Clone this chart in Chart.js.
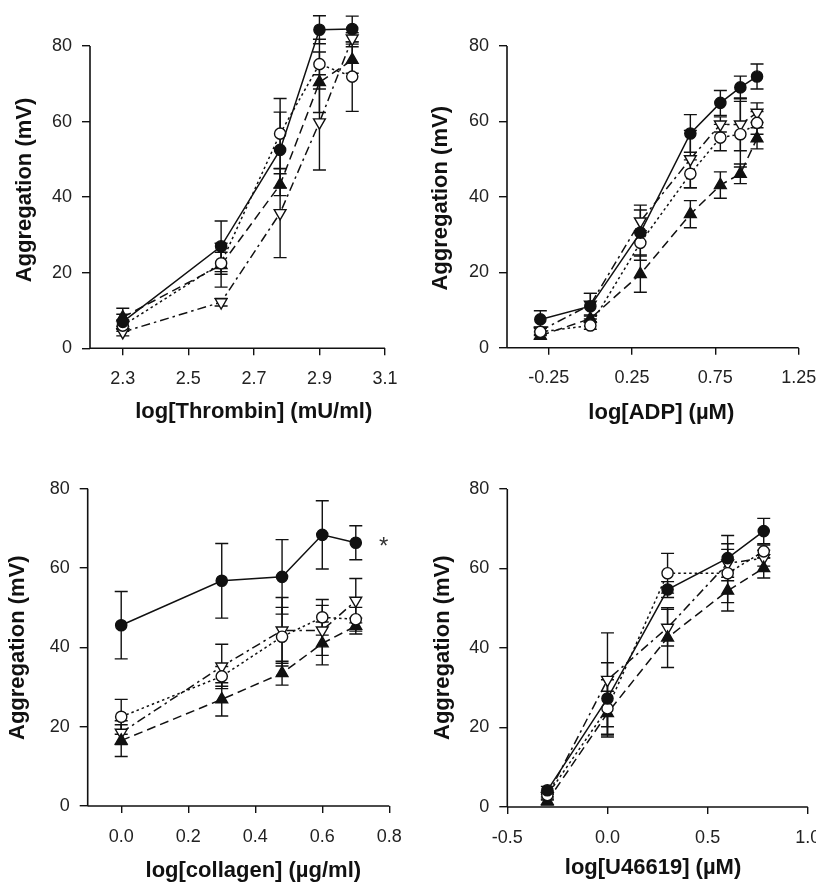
<!DOCTYPE html>
<html>
<head>
<meta charset="utf-8">
<script src="https://cdn.jsdelivr.net/npm/chart.js@4/dist/chart.umd.min.js"></script>
<style>
  html, body { margin: 0; padding: 0; background: #fff; }
  #wrap { position: relative; width: 816px; height: 882px; overflow: hidden; }
  .panel { position: absolute; width: 408px; height: 441px; }
</style>
</head>
<body>
<div id="wrap">
  <div class="panel" style="left:0;top:0"><canvas id="thrombin"></canvas></div>
  <div class="panel" style="left:408px;top:0"><canvas id="adp"></canvas></div>
  <div class="panel" style="left:0;top:441px"><canvas id="collagen"></canvas></div>
  <div class="panel" style="left:408px;top:441px"><canvas id="u46619"></canvas></div>
</div>
<script>
// ---- Thrombin ----
const thrombinDose = [2.30, 2.60, 2.78, 2.90, 3.00];
const thrombinFilledCircle = [7.0, 27.0, 52.5, 84.3, 84.5];
const thrombinFilledCircleSem = [2.0, 6.7, 10.0, 3.7, 3.4];
const thrombinOpenCircle = [6.0, 22.5, 56.8, 75.2, 71.9];
const thrombinOpenCircleSem = [1.5, 2.9, 9.3, 6.6, 9.2];
const thrombinFilledTriangle = [8.2, 22.0, 43.3, 70.4, 76.3];
const thrombinFilledTriangleSem = [2.4, 5.8, 2.9, 8.0, 3.5];
const thrombinOpenTriangle = [4.3, 12.2, 35.8, 59.8, 82.0];
const thrombinOpenTriangleSem = [1.0, 1.0, 11.8, 12.6, 1.5];
const thrombinTicks = [2.3, 2.5, 2.7, 2.9, 3.1];
const thrombinTickLabels = ['2.3', '2.5', '2.7', '2.9', '3.1'];

// ---- ADP ----
const adpDose = [-0.30, 0.00, 0.30, 0.60, 0.78, 0.90, 1.00];
const adpFilledCircle = [7.5, 11.0, 30.5, 56.8, 64.9, 69.0, 71.9];
const adpFilledCircleSem = [2.3, 3.4, 7.3, 5.0, 3.3, 3.0, 3.3];
const adpOpenCircle = [4.2, 5.9, 27.8, 46.1, 55.7, 56.6, 59.6];
const adpOpenCircleSem = [1.0, 1.0, 3.2, 3.7, 3.5, 8.7, 3.0];
const adpFilledTriangle = [3.2, 7.7, 19.5, 35.4, 43.1, 46.1, 55.5];
const adpFilledTriangleSem = [1.0, 1.0, 4.8, 3.6, 3.5, 2.6, 2.8];
const adpOpenTriangle = [4.5, 11.4, 33.5, 50.0, 59.2, 59.2, 62.3];
const adpOpenTriangleSem = [1.0, 3.0, 3.0, 7.6, 2.0, 7.0, 2.6];
const adpTicks = [-0.25, 0.25, 0.75, 1.25];
const adpTickLabels = ['-0.25', '0.25', '0.75', '1.25'];

// ---- Collagen ----
const collagenDose = [0.00, 0.30, 0.48, 0.60, 0.70];
const collagenFilledCircle = [45.6, 56.8, 57.8, 68.4, 66.4];
const collagenFilledCircleSem = [8.5, 9.4, 9.4, 8.6, 4.3];
const collagenOpenCircle = [22.5, 32.7, 42.7, 47.6, 47.1];
const collagenOpenCircleSem = [4.4, 2.5, 7.4, 4.5, 3.0];
const collagenFilledTriangle = [16.5, 26.9, 33.5, 41.0, 45.4];
const collagenFilledTriangleSem = [4.0, 4.2, 3.0, 5.4, 2.0];
const collagenOpenTriangle = [18.5, 35.2, 44.3, 44.3, 51.8];
const collagenOpenTriangleSem = [3.0, 5.6, 8.3, 6.3, 5.6];
const collagenTicks = [0.0, 0.2, 0.4, 0.6, 0.8];
const collagenTickLabels = ['0.0', '0.2', '0.4', '0.6', '0.8'];

// ---- U46619 ----
const u46619Dose = [-0.30, 0.00, 0.30, 0.60, 0.78];
const u46619FilledCircle = [4.2, 27.3, 54.7, 62.6, 69.4];
const u46619FilledCircleSem = [1.0, 9.0, 2.0, 5.7, 3.2];
const u46619OpenCircle = [3.0, 24.8, 58.8, 58.8, 64.3];
const u46619OpenCircleSem = [1.0, 7.2, 5.0, 7.4, 1.6];
const u46619FilledTriangle = [1.5, 23.6, 42.6, 54.4, 60.1];
const u46619FilledTriangleSem = [1.0, 5.5, 7.5, 5.1, 2.5];
const u46619OpenTriangle = [2.75, 32.0, 45.1, 61.3, 62.6];
const u46619OpenTriangleSem = [1.0, 11.8, 4.6, 3.5, 2.0];
const u46619Ticks = [-0.5, 0.0, 0.5, 1.0];
const u46619TickLabels = ['-0.5', '0.0', '0.5', '1.0'];

const yTicks = [0, 20, 40, 60, 80];
const yTickLabels = ['0', '20', '40', '60', '80'];

const FONT = '"Liberation Sans", Arial, Helvetica, sans-serif';
const INK = '#111';

// one series = marker + line pattern shared across panels
const seriesStyles = [
  { pointStyle: 'circle',   radius: 5.6, fill: INK,    dash: [],           rotation: 0 },
  { pointStyle: 'circle',   radius: 5.6, fill: '#fff', dash: [2.5, 3],     rotation: 0 },
  { pointStyle: 'triangle', radius: 6.8, fill: INK,    dash: [9, 5],       rotation: 0 },
  { pointStyle: 'triangle', radius: 6.8, fill: '#fff', dash: [9, 4, 2.5, 4], rotation: 180 }
];

function buildDatasets(dose, values, sems) {
  return values.map((vals, i) => {
    const st = seriesStyles[i];
    return {
      data: dose.map((x, j) => ({ x: x, y: vals[j] })),
      sem: sems[i],
      borderColor: INK,
      borderWidth: 1.5,
      borderDash: st.dash,
      backgroundColor: st.fill,
      pointStyle: st.pointStyle,
      pointRadius: st.radius,
      pointRotation: st.rotation,
      pointBackgroundColor: st.fill,
      pointBorderColor: INK,
      pointBorderWidth: 1.4,
      tension: 0,
      fill: false
    };
  });
}

// axis lines: x axis across the full range, y axis from 0 up to the top tick
const axisLines = {
  id: 'axisLines',
  beforeDatasetsDraw(chart) {
    const { ctx, scales: { x, y } } = chart;
    const y0 = y.getPixelForValue(0);
    const yTop = y.getPixelForValue(yTicks[yTicks.length - 1]);
    const xl = chart.chartArea.left;
    const xr = x.getPixelForValue(x.max);
    ctx.save();
    ctx.strokeStyle = INK;
    ctx.lineWidth = 1.6;
    ctx.beginPath();
    ctx.moveTo(xl, y0); ctx.lineTo(xr, y0);
    ctx.moveTo(xl, y0); ctx.lineTo(xl, yTop);
    ctx.stroke();
    ctx.restore();
  }
};

// vertical SEM bars with caps, drawn beneath the markers
const errorBars = {
  id: 'errorBars',
  beforeDatasetsDraw(chart) {
    const { ctx, scales: { x, y } } = chart;
    ctx.save();
    ctx.strokeStyle = INK;
    ctx.lineWidth = 1.4;
    ctx.setLineDash([]);
    chart.data.datasets.forEach(ds => {
      ds.data.forEach((p, j) => {
        const e = ds.sem[j];
        const px = x.getPixelForValue(p.x);
        const hi = y.getPixelForValue(p.y + e);
        const lo = y.getPixelForValue(p.y - e);
        ctx.beginPath();
        ctx.moveTo(px, hi); ctx.lineTo(px, lo);
        ctx.moveTo(px - 6.5, hi); ctx.lineTo(px + 6.5, hi);
        ctx.moveTo(px - 6.5, lo); ctx.lineTo(px + 6.5, lo);
        ctx.stroke();
      });
    });
    ctx.restore();
  }
};

// axis titles and optional significance mark
const axisTitles = {
  id: 'axisTitles',
  afterDraw(chart) {
    const o = chart.options.plugins.axisTitles;
    const ctx = chart.ctx;
    ctx.save();
    ctx.fillStyle = INK;
    ctx.font = 'bold 22px ' + FONT;
    ctx.textAlign = 'center';
    ctx.textBaseline = 'middle';
    ctx.fillText(o.xText, o.xPos[0], o.xPos[1]);
    ctx.translate(o.yPos[0], o.yPos[1]);
    ctx.rotate(-Math.PI / 2);
    ctx.fillText(o.yText, 0, 0);
    ctx.restore();
    if (o.mark) {
      const { x, y } = chart.scales;
      const ds = chart.data.datasets[o.mark.series];
      const last = ds.data[ds.data.length - 1];
      ctx.save();
      ctx.fillStyle = '#333';
      ctx.font = '24px ' + FONT;
      ctx.textAlign = 'center';
      ctx.textBaseline = 'middle';
      ctx.fillText(o.mark.text, x.getPixelForValue(last.x) + 28, y.getPixelForValue(last.y) + 5);
      ctx.restore();
    }
  }
};

function makePanel(id, p) {
  const pxPerUnit = (p.y0px - p.y80px) / 80;
  const yMax = 90;
  const top = p.y0px - yMax * pxPerUnit;
  const tickFont = { family: FONT, size: 18 };
  new Chart(document.getElementById(id), {
    type: 'line',
    data: { datasets: buildDatasets(p.dose, p.values, p.sems) },
    options: {
      responsive: true,
      maintainAspectRatio: false,
      animation: false,
      events: [],
      layout: { padding: { top: top, left: 0, right: 408 - p.right, bottom: 0 } },
      plugins: {
        legend: { display: false },
        tooltip: { enabled: false },
        axisTitles: { xText: p.xTitle, xPos: p.xTitlePos, yText: 'Aggregation (mV)', yPos: p.yTitlePos, mark: p.mark }
      },
      scales: {
        x: {
          type: 'linear',
          min: p.xMin,
          max: p.xMax,
          afterBuildTicks: s => { s.ticks = p.ticks.map(v => ({ value: v })); },
          afterFit: s => { s.height = 441 - p.y0px; s.paddingLeft = 0; s.paddingRight = 0; s.paddingTop = 0; s.paddingBottom = 0; },
          ticks: { autoSkip: false, maxRotation: 0, font: tickFont, color: '#222', padding: 13,
                   callback: (v, i) => p.tickLabels[i] },
          grid: { drawOnChartArea: false, drawTicks: true, tickLength: 7, color: INK, lineWidth: 1.4 },
          border: { display: false }
        },
        y: {
          type: 'linear',
          min: 0,
          max: yMax,
          afterBuildTicks: s => { s.ticks = yTicks.map(v => ({ value: v })); },
          afterFit: s => { s.width = p.left; s.paddingTop = 0; s.paddingBottom = 0; s.paddingLeft = 0; s.paddingRight = 0; },
          ticks: { font: tickFont, color: '#222', padding: 10, callback: (v, i) => yTickLabels[i] },
          grid: { drawOnChartArea: false, drawTicks: true, tickLength: 8, color: INK, lineWidth: 1.4 },
          border: { display: false }
        }
      }
    },
    plugins: [axisLines, errorBars, axisTitles]
  });
}

makePanel('thrombin', {
  dose: thrombinDose,
  values: [thrombinFilledCircle, thrombinOpenCircle, thrombinFilledTriangle, thrombinOpenTriangle],
  sems: [thrombinFilledCircleSem, thrombinOpenCircleSem, thrombinFilledTriangleSem, thrombinOpenTriangleSem],
  xMin: 2.2, xMax: 3.1, ticks: thrombinTicks, tickLabels: thrombinTickLabels,
  left: 90, right: 385, y0px: 348.3, y80px: 40.7,
  xTitle: 'log[Thrombin] (mU/ml)', xTitlePos: [253.7, 411.7], yTitlePos: [25, 190]
});

makePanel('adp', {
  dose: adpDose,
  values: [adpFilledCircle, adpOpenCircle, adpFilledTriangle, adpOpenTriangle],
  sems: [adpFilledCircleSem, adpOpenCircleSem, adpFilledTriangleSem, adpOpenTriangleSem],
  xMin: -0.5, xMax: 1.25, ticks: adpTicks, tickLabels: adpTickLabels,
  left: 99, right: 390.7, y0px: 347.7, y80px: 42.3,
  xTitle: 'log[ADP] (\u00b5M)', xTitlePos: [253.3, 413.3], yTitlePos: [33.3, 198.3]
});

makePanel('collagen', {
  dose: collagenDose,
  values: [collagenFilledCircle, collagenOpenCircle, collagenFilledTriangle, collagenOpenTriangle],
  sems: [collagenFilledCircleSem, collagenOpenCircleSem, collagenFilledTriangleSem, collagenOpenTriangleSem],
  xMin: -0.1, xMax: 0.8, ticks: collagenTicks, tickLabels: collagenTickLabels,
  left: 87.7, right: 389.3, y0px: 365, y80px: 44.3,
  xTitle: 'log[collagen] (\u00b5g/ml)', xTitlePos: [253.3, 430], yTitlePos: [18.3, 206.7],
  mark: { text: '*', series: 0 }
});

makePanel('u46619', {
  dose: u46619Dose,
  values: [u46619FilledCircle, u46619OpenCircle, u46619FilledTriangle, u46619OpenTriangle],
  sems: [u46619FilledCircleSem, u46619OpenCircleSem, u46619FilledTriangleSem, u46619OpenTriangleSem],
  xMin: -0.5, xMax: 1.0, ticks: u46619Ticks, tickLabels: u46619TickLabels,
  left: 99.3, right: 402.3, y0px: 366, y80px: 46,
  xTitle: 'log[U46619] (\u00b5M)', xTitlePos: [245, 426.7], yTitlePos: [35, 206.7]
});
</script>
</body>
</html>
